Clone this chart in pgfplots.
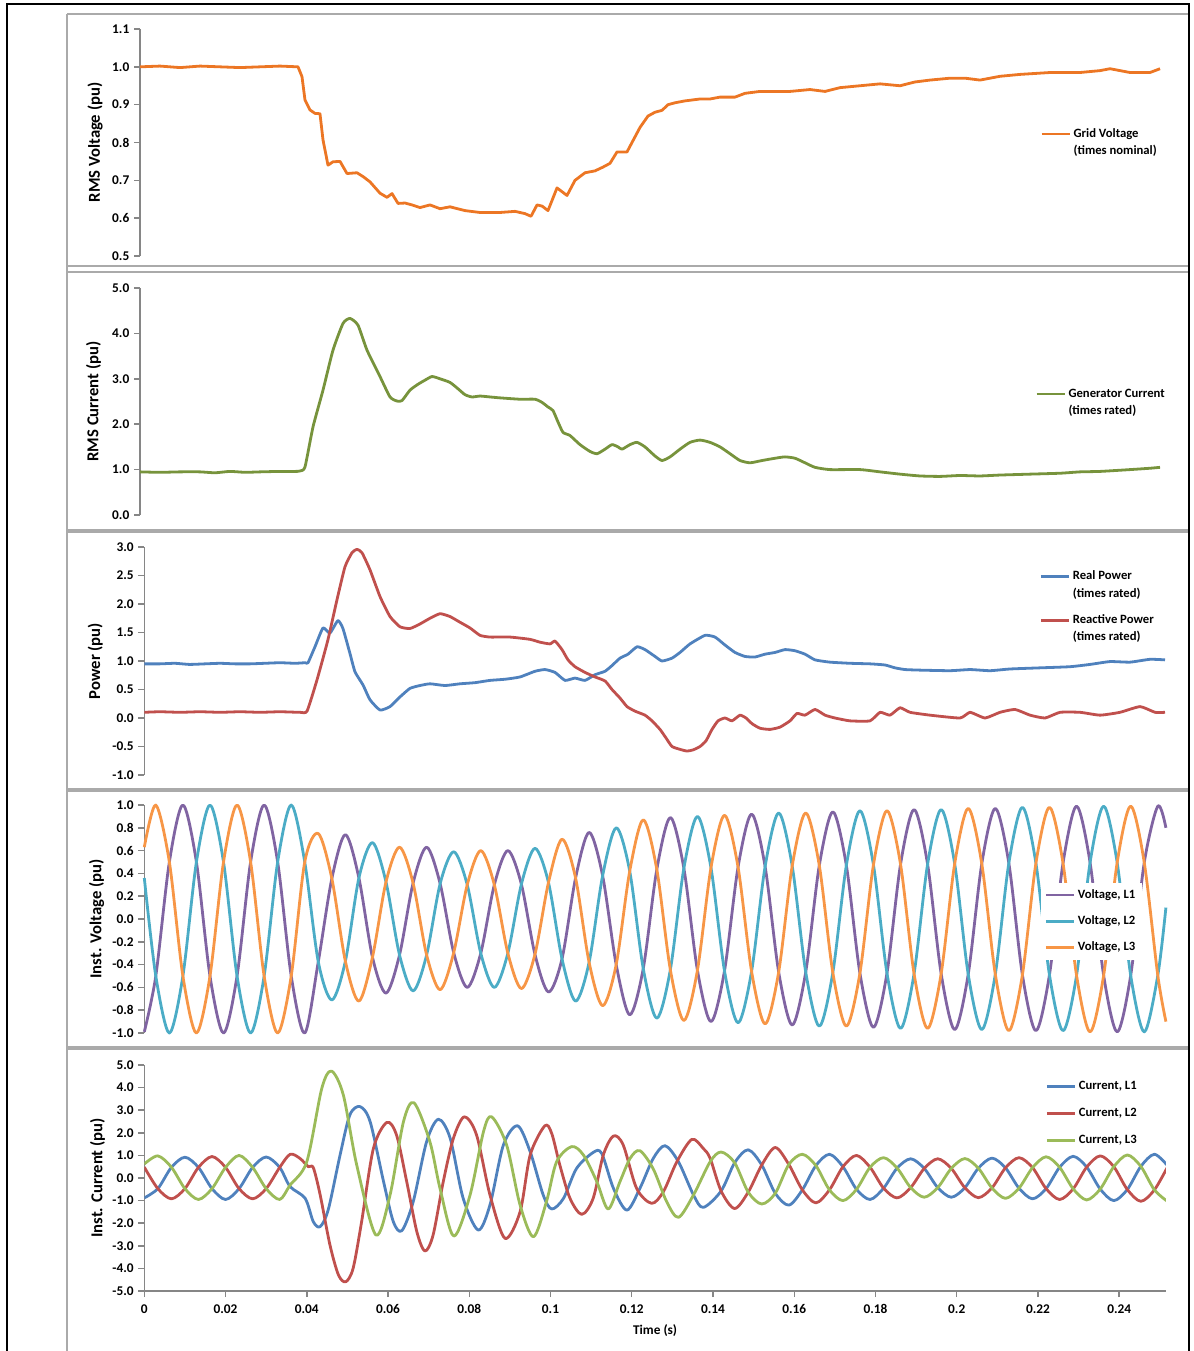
\documentclass[border=0pt]{standalone}
\usepackage{fontspec}
\setmainfont{Carlito}
\usepackage{pgfplots}
\usepackage{pgfplotstable}
\pgfplotsset{compat=1.18}
\definecolor{cOrange}{RGB}{236,118,36}
\definecolor{cGreenI}{RGB}{119,147,60}
\definecolor{cBlue}{RGB}{79,129,189}
\definecolor{cRed}{RGB}{192,80,77}
\definecolor{cPurple}{RGB}{128,100,162}
\definecolor{cTeal}{RGB}{75,172,198}
\definecolor{cOrange3}{RGB}{247,150,70}
\definecolor{cGreen5}{RGB}{155,187,89}
\definecolor{cAxis}{RGB}{134,134,134}
\definecolor{cFrame}{RGB}{170,170,170}

\pgfplotstableread{
t P T O
0 -0.99 0.36 0.63
0.00283 -0.5 -0.5 1
0.00617 0.5 -1 0.5
0.0095 1 -0.5 -0.5
0.01283 0.5 0.5 -1
0.01617 -0.5 1 -0.5
0.0195 -1 0.5 0.5
0.02283 -0.5 -0.5 1
0.02617 0.5 -1 0.5
0.0295 1 -0.5 -0.5
0.03283 0.5 0.5 -1
0.03617 -0.5 1 -0.5
0.0395 -1 0.5 0.5
0.04283 -0.375 -0.375 0.75
0.04617 0.355 -0.71 0.355
0.0495 0.74 -0.37 -0.37
0.05283 0.36 0.36 -0.72
0.05617 -0.335 0.67 -0.335
0.0595 -0.65 0.325 0.325
0.06283 -0.315 -0.315 0.63
0.06617 0.315 -0.63 0.315
0.0695 0.63 -0.315 -0.315
0.07283 0.31 0.31 -0.62
0.07617 -0.295 0.59 -0.295
0.0795 -0.6 0.3 0.3
0.08283 -0.3 -0.3 0.6
0.08617 0.3 -0.6 0.3
0.0895 0.6 -0.3 -0.3
0.09283 0.305 0.305 -0.61
0.09617 -0.31 0.62 -0.31
0.0995 -0.64 0.32 0.32
0.10283 -0.35 -0.35 0.70
0.10617 0.36 -0.72 0.36
0.1095 0.76 -0.38 -0.38
0.11283 0.38 0.38 -0.76
0.11617 -0.4 0.8 -0.4
0.1195 -0.84 0.42 0.42
0.12283 -0.435 -0.435 0.87
0.12617 0.435 -0.87 0.435
0.1295 0.89 -0.445 -0.445
0.13283 0.445 0.445 -0.89
0.13617 -0.45 0.9 -0.45
0.1395 -0.9 0.45 0.45
0.14283 -0.455 -0.455 0.91
0.14617 0.455 -0.91 0.455
0.1495 0.92 -0.46 -0.46
0.15283 0.46 0.46 -0.92
0.15617 -0.465 0.93 -0.465
0.1595 -0.93 0.465 0.465
0.16283 -0.465 -0.465 0.93
0.16617 0.47 -0.94 0.47
0.1695 0.94 -0.47 -0.47
0.17283 0.47 0.47 -0.94
0.17617 -0.475 0.95 -0.475
0.1795 -0.95 0.475 0.475
0.18283 -0.475 -0.475 0.95
0.18617 0.48 -0.96 0.48
0.1895 0.96 -0.48 -0.48
0.19283 0.48 0.48 -0.96
0.19617 -0.48 0.96 -0.48
0.1995 -0.97 0.485 0.485
0.20283 -0.485 -0.485 0.97
0.20617 0.485 -0.97 0.485
0.2095 0.97 -0.485 -0.485
0.21283 0.49 0.49 -0.98
0.21617 -0.49 0.98 -0.49
0.2195 -0.98 0.49 0.49
0.22283 -0.49 -0.49 0.98
0.22617 0.49 -0.98 0.49
0.2295 0.99 -0.495 -0.495
0.23283 0.495 0.495 -0.99
0.23617 -0.495 0.99 -0.495
0.2395 -0.99 0.495 0.495
0.24283 -0.495 -0.495 0.99
0.24617 0.495 -0.99 0.495
0.2495 0.99 -0.495 -0.495
0.2515 0.80 0.10 -0.90
}\voltab

\pgfplotsset{
  panel/.style={
    anchor=south west, scale only axis, width=766.2pt,
    xmin=0, xmax=0.2515,
    axis y line*=left,
    axis line style={draw=cAxis, line width=1.1pt},
    tick style={draw=cAxis, line width=1.1pt},
    tick align=outside, major tick length=4.5pt,
    ticklabel style={font=\fontsize{10}{11}\selectfont\bfseries, text=black},
    label style={font=\fontsize{12.5}{14}\selectfont\bfseries},
    ylabel style={at={(axis description cs:-0.046,0.5)}, anchor=center},
    legend style={draw=none, fill=none, font=\fontsize{9.5}{13}\selectfont\bfseries,
      anchor=west, cells={anchor=west, align=left}, inner sep=0pt, row sep=6pt},
    legend cell align=left,
    legend image code/.code={\draw[##1, line width=2pt] (0pt,0pt) -- (21pt,0pt);},
    every axis plot/.append style={line width=2.1pt, line join=round},
  },
  twoline/.style={
    legend image code/.code={\path[draw=none, fill=none] (0pt,-6.4pt) rectangle (21pt,6.4pt);
      \draw[##1, line width=2pt] (0pt,6.4pt) -- (21pt,6.4pt);},
  },
  noxaxis/.style={axis x line=none, xtick=\empty},
}

\begin{document}
\begin{tikzpicture}
\useasboundingbox (0,0) rectangle (894.75pt,-1013.25pt);
\begin{scope}[x=0.75pt,y=-0.75pt]
  \draw[cFrame, line width=1.5pt] (67,14) -- (1189,14);
  \draw[cFrame, line width=1.5pt] (67,266) -- (1189,266);
  \draw[cFrame, line width=1.5pt] (67,272) -- (1189,272);
  \draw[cFrame, line width=1.5pt] (67,530) -- (1189,530);
  \draw[cFrame, line width=1.5pt] (67,532) -- (1189,532);
  \draw[cFrame, line width=1.5pt] (67,789) -- (1189,789);
  \draw[cFrame, line width=1.5pt] (67,791) -- (1189,791);
  \draw[cFrame, line width=1.5pt] (67,1047) -- (1189,1047);
  \draw[cFrame, line width=1.5pt] (67,1049) -- (1189,1049);
  \draw[cFrame, line width=1.5pt] (67,14) -- (67,1360);
  \draw[black, line width=2.2pt] (7,1360) -- (7,4) -- (1189,4) -- (1189,1360);
\end{scope}

% Panel 1: RMS voltage
\begin{axis}[panel, twoline, noxaxis, at={(105pt,-192pt)}, height=170.25pt,
  ymin=0.5, ymax=1.1,
  ytick={0.5,0.6,0.7,0.8,0.9,1.0,1.1},
  yticklabels={0.5,0.6,0.7,0.8,0.9,1.0,1.1},
  ylabel={RMS Voltage (pu)},
  ylabel style={at={(axis description cs:-0.044,0.5)}},
  legend style={at={(axis description cs:0.881,0.50)}}]
\addplot[cOrange] table {
t v
0 1.0
0.00492 1.002
0.00985 0.998
0.01477 1.002
0.0197 1.0
0.02462 0.998
0.02954 1.0
0.03447 1.002
0.0389 1.0
0.03988 0.974
0.04062 0.912
0.04185 0.886
0.04308 0.877
0.04431 0.876
0.04505 0.807
0.04628 0.74
0.04751 0.749
0.04924 0.75
0.05096 0.718
0.05342 0.72
0.0549 0.71
0.05662 0.696
0.05908 0.666
0.06081 0.655
0.06204 0.665
0.06352 0.639
0.06524 0.64
0.06696 0.635
0.06893 0.628
0.07139 0.635
0.07386 0.625
0.07632 0.63
0.08001 0.62
0.0837 0.615
0.08863 0.615
0.09232 0.618
0.09478 0.612
0.09626 0.605
0.09774 0.635
0.09897 0.632
0.10044 0.62
0.10266 0.68
0.10512 0.66
0.10709 0.70
0.10955 0.72
0.11201 0.725
0.11398 0.735
0.11571 0.745
0.11743 0.775
0.11989 0.775
0.12112 0.80
0.1231 0.84
0.12506 0.87
0.12678 0.88
0.12851 0.885
0.12999 0.90
0.13171 0.905
0.13417 0.91
0.13786 0.915
0.14033 0.915
0.14279 0.92
0.14648 0.92
0.14894 0.93
0.15263 0.935
0.16002 0.935
0.16494 0.94
0.16864 0.935
0.17233 0.945
0.17725 0.95
0.18218 0.955
0.1871 0.95
0.19079 0.96
0.19449 0.965
0.19941 0.97
0.2031 0.97
0.2068 0.965
0.21172 0.975
0.21664 0.98
0.22403 0.985
0.23141 0.985
0.23634 0.99
0.2388 0.995
0.24372 0.985
0.24865 0.985
0.25111 0.995
};
\addlegendentry{Grid Voltage\\(times nominal)}
\end{axis}

% Panel 2: RMS current
\begin{axis}[panel, twoline, noxaxis, at={(105pt,-386.25pt)}, height=170.25pt,
  ymin=0, ymax=5,
  ytick={0,1,2,3,4,5},
  yticklabels={0.0,1.0,2.0,3.0,4.0,5.0},
  ylabel={RMS Current (pu)},
  ylabel style={at={(axis description cs:-0.0455,0.5)}},
  legend style={at={(axis description cs:0.876,0.495)}}]
\addplot[cGreenI, smooth, tension=0.35] table {
t v
0 0.95
0.00492 0.94
0.00985 0.95
0.01477 0.95
0.01846 0.93
0.02216 0.96
0.02585 0.94
0.02954 0.95
0.03447 0.96
0.03816 0.96
0.03939 0.97
0.04062 1.06
0.04259 1.94
0.04505 2.75
0.04751 3.63
0.04998 4.22
0.0517 4.33
0.05367 4.18
0.05589 3.63
0.05908 3.05
0.06155 2.6
0.06327 2.51
0.0645 2.52
0.06647 2.75
0.06844 2.88
0.07016 2.97
0.07189 3.05
0.07386 3.0
0.07632 2.92
0.07829 2.78
0.08001 2.65
0.08173 2.6
0.0837 2.62
0.08617 2.6
0.08863 2.58
0.09355 2.55
0.09724 2.55
0.09897 2.48
0.10044 2.38
0.10167 2.3
0.1029 2.05
0.10414 1.82
0.10586 1.75
0.10832 1.55
0.11078 1.4
0.11251 1.35
0.11448 1.45
0.1162 1.55
0.11768 1.5
0.11866 1.45
0.12063 1.55
0.12235 1.6
0.12432 1.5
0.12678 1.3
0.12851 1.2
0.13048 1.28
0.13294 1.45
0.1354 1.6
0.13786 1.65
0.14033 1.6
0.14279 1.5
0.14525 1.35
0.14771 1.2
0.15017 1.15
0.15313 1.2
0.15633 1.25
0.15879 1.28
0.16125 1.25
0.16371 1.15
0.16617 1.05
0.16987 1.0
0.17725 1.0
0.18218 0.95
0.1871 0.9
0.19202 0.86
0.19695 0.85
0.20187 0.87
0.2068 0.86
0.21172 0.88
0.21911 0.9
0.22649 0.92
0.23141 0.95
0.23634 0.96
0.24372 1.0
0.24865 1.03
0.25111 1.05
};
\addlegendentry{Generator Current\\(times rated)}
\end{axis}

% Panel 3: Power
\begin{axis}[panel, twoline, noxaxis, at={(108.225pt,-581.25pt)}, height=171pt,
  ymin=-1, ymax=3,
  ytick={-1,-0.5,0,0.5,1,1.5,2,2.5,3},
  yticklabels={-1.0,-0.5,0.0,0.5,1.0,1.5,2.0,2.5,3.0},
  ylabel={Power (pu)},
  ylabel style={at={(axis description cs:-0.048,0.5)}},
  legend style={at={(axis description cs:0.876,0.737)}, row sep=7.5pt}]
\addplot[cBlue, smooth, tension=0.3] table {
t v
0 0.95
0.00387 0.95
0.00756 0.96
0.0111 0.94
0.01494 0.95
0.01864 0.96
0.02233 0.95
0.02602 0.95
0.02971 0.96
0.03341 0.97
0.0371 0.96
0.03957 0.97
0.0403 0.97
0.04202 1.25
0.04399 1.58
0.0457 1.49
0.04767 1.71
0.0489 1.57
0.05064 1.13
0.05187 0.81
0.05384 0.58
0.05556 0.32
0.05803 0.14
0.06049 0.2
0.06295 0.37
0.06541 0.52
0.06787 0.57
0.07034 0.6
0.07403 0.57
0.07772 0.6
0.08141 0.62
0.08511 0.66
0.0888 0.68
0.09249 0.72
0.09618 0.82
0.09865 0.85
0.10111 0.8
0.10357 0.66
0.10603 0.7
0.1085 0.66
0.11096 0.76
0.11342 0.82
0.11514 0.92
0.11711 1.05
0.11908 1.12
0.1213 1.25
0.12326 1.2
0.12573 1.08
0.12745 1.0
0.12991 1.05
0.13188 1.15
0.13434 1.3
0.13804 1.45
0.1405 1.42
0.14296 1.28
0.14542 1.15
0.14788 1.08
0.15034 1.07
0.15281 1.12
0.15527 1.15
0.15773 1.2
0.16019 1.18
0.16265 1.12
0.16512 1.02
0.1688 0.98
0.17373 0.96
0.17866 0.95
0.18235 0.93
0.18481 0.88
0.18728 0.85
0.19097 0.84
0.19835 0.83
0.20328 0.85
0.2082 0.83
0.21312 0.86
0.22051 0.88
0.2279 0.9
0.23282 0.94
0.23774 0.99
0.24267 0.98
0.24759 1.03
0.25128 1.02
};
\addlegendentry{Real Power\\(times rated)}
\addplot[cRed, smooth, tension=0.3] table {
t v
0 0.1
0.00387 0.11
0.00879 0.1
0.01371 0.11
0.01864 0.1
0.02356 0.11
0.02848 0.1
0.03341 0.11
0.03833 0.1
0.04006 0.12
0.04252 0.67
0.0452 1.37
0.04742 2.07
0.04939 2.65
0.05113 2.9
0.05236 2.96
0.05359 2.9
0.05556 2.6
0.05803 2.13
0.06049 1.78
0.06295 1.6
0.06541 1.57
0.06787 1.65
0.07034 1.75
0.0728 1.83
0.07526 1.78
0.07772 1.68
0.08018 1.58
0.08265 1.45
0.08511 1.42
0.09003 1.42
0.09495 1.38
0.09742 1.33
0.09988 1.3
0.10111 1.35
0.10283 1.2
0.10431 1.02
0.10603 0.9
0.1085 0.8
0.11096 0.72
0.11342 0.65
0.11514 0.5
0.11711 0.35
0.11884 0.2
0.12081 0.12
0.12326 0.05
0.12499 -0.05
0.12696 -0.2
0.12843 -0.35
0.12991 -0.5
0.13188 -0.55
0.1336 -0.58
0.13508 -0.56
0.1368 -0.5
0.13828 -0.4
0.13976 -0.2
0.14124 -0.05
0.14296 0.0
0.14468 -0.05
0.14665 0.05
0.14813 0.0
0.14961 -0.1
0.15158 -0.18
0.15404 -0.2
0.1565 -0.16
0.15896 -0.05
0.16068 0.08
0.16265 0.05
0.16512 0.15
0.16758 0.05
0.17004 0.0
0.17373 -0.05
0.17866 -0.05
0.18112 0.1
0.18358 0.05
0.18604 0.18
0.18851 0.1
0.19343 0.05
0.20081 0.0
0.20328 0.1
0.20697 0.0
0.21066 0.1
0.21435 0.15
0.21805 0.05
0.22174 0.0
0.22543 0.1
0.23036 0.1
0.23528 0.05
0.2402 0.1
0.24513 0.2
0.24882 0.1
0.25128 0.1
};
\addlegendentry{Reactive Power\\(times rated)}
\end{axis}

% Panel 4: instantaneous voltage
\begin{axis}[panel, noxaxis, at={(108.225pt,-774.75pt)}, height=171pt,
  ymin=-1, ymax=1, clip=false,
  ytick={-1,-0.8,-0.6,-0.4,-0.2,0,0.2,0.4,0.6,0.8,1},
  yticklabels={-1.0,-0.8,-0.6,-0.4,-0.2,0.0,0.2,0.4,0.6,0.8,1.0},
  ylabel={Inst. Voltage (pu)},
  ylabel style={at={(axis description cs:-0.0468,0.5)}},
  legend style={at={(axis description cs:0.877,0.49)}, fill=white, inner sep=3pt, row sep=7.5pt}]
\addplot[cPurple, smooth] table[x=t, y=P] {\voltab};
\addlegendentry{Voltage, L1}
\addplot[cTeal, smooth] table[x=t, y=T] {\voltab};
\addlegendentry{Voltage, L2}
\addplot[cOrange3, smooth] table[x=t, y=O] {\voltab};
\addlegendentry{Voltage, L3}
\end{axis}

% Panel 5: instantaneous current
\begin{axis}[panel, at={(108.225pt,-968.25pt)}, height=169.5pt,
  ymin=-5, ymax=5,
  axis x line*=bottom,
  xtick={0,0.02,0.04,0.06,0.08,0.1,0.12,0.14,0.16,0.18,0.2,0.22,0.24},
  xticklabels={0,0.02,0.04,0.06,0.08,0.1,0.12,0.14,0.16,0.18,0.2,0.22,0.24},
  xticklabel style={yshift=-2pt},
  ytick={-5,-4,-3,-2,-1,0,1,2,3,4,5},
  yticklabels={-5.0,-4.0,-3.0,-2.0,-1.0,0.0,1.0,2.0,3.0,4.0,5.0},
  xlabel={Time (s)},
  xlabel style={at={(axis description cs:0.5,-0.176)}, anchor=center, font=\fontsize{10}{11}\selectfont\bfseries},
  ylabel={Inst. Current (pu)},
  ylabel style={at={(axis description cs:-0.0458,0.5)}},
  legend style={at={(axis description cs:0.882,0.786)}, row sep=8.5pt}]
\addplot[cBlue, smooth, tension=0.5] table {
t v
0 -0.88
0.00333 -0.47
0.00667 0.47
0.01 0.92
0.01333 0.47
0.01667 -0.47
0.02 -0.95
0.02333 -0.47
0.02667 0.47
0.03 0.93
0.03333 0.47
0.0359 -0.38
0.0396 -0.9
0.0416 -1.93
0.0433 -2.15
0.0453 -1.39
0.0482 1.02
0.0506 2.79
0.0531 3.16
0.0556 2.49
0.0589 -0.16
0.0613 -1.93
0.0634 -2.33
0.0662 -1.05
0.0695 1.61
0.0724 2.6
0.0753 1.76
0.0785 -0.9
0.0822 -2.3
0.0851 -1.19
0.0884 1.46
0.0919 2.31
0.095 1.16
0.0982 -0.75
0.1003 -1.37
0.1032 -0.9
0.1064 0.42
0.1105 1.13
0.1126 1.09
0.1155 -0.46
0.1188 -1.42
0.122 -0.46
0.1253 0.87
0.1282 1.43
0.1315 0.72
0.1352 -0.75
0.1376 -1.3
0.142 -0.575
0.14533 0.675
0.14867 1.25
0.152 0.575
0.15533 -0.675
0.15867 -1.2
0.162 -0.525
0.16533 0.55
0.16867 1.05
0.172 0.5
0.17533 -0.5
0.17867 -0.95
0.182 -0.45
0.18533 0.44
0.18867 0.85
0.192 0.425
0.19533 -0.425
0.19867 -0.85
0.202 -0.43
0.20533 0.435
0.20867 0.88
0.212 0.45
0.21533 -0.45
0.21867 -0.92
0.222 -0.47
0.22533 0.475
0.22867 0.96
0.232 0.485
0.23533 -0.49
0.23867 -1.0
0.242 -0.51
0.24533 0.515
0.24867 1.05
0.252 0.525
};
\addlegendentry{Current, L1}
\addplot[cRed, smooth, tension=0.5] table {
t v
0 0.48
0.00333 -0.47
0.00667 -0.92
0.01 -0.47
0.01333 0.47
0.01667 0.95
0.02 0.47
0.02333 -0.47
0.02667 -0.92
0.03 -0.47
0.03333 0.47
0.0359 1.05
0.0383 0.87
0.0404 0.5
0.0416 0.46
0.0433 -0.75
0.0457 -2.96
0.0478 -4.29
0.0496 -4.59
0.0514 -4.0
0.0535 -1.93
0.0564 1.31
0.0597 2.46
0.0621 1.9
0.0646 -0.16
0.0671 -2.38
0.0691 -3.23
0.0711 -2.52
0.0736 -0.16
0.0761 1.76
0.0788 2.71
0.0818 1.9
0.0851 -0.75
0.0888 -2.67
0.0925 -1.5
0.095 1.02
0.0986 2.31
0.1003 1.97
0.1023 0.57
0.1048 -0.9
0.1077 -1.61
0.1105 -0.9
0.113 1.02
0.1155 1.86
0.1179 1.46
0.1212 -0.46
0.1249 -1.12
0.1278 -0.6
0.1311 0.72
0.1348 1.71
0.1376 1.31
0.1393 0.87
0.142 -0.575
0.14533 -1.35
0.14867 -0.625
0.152 0.575
0.15533 1.35
0.15867 0.6
0.162 -0.525
0.16533 -1.1
0.16867 -0.525
0.172 0.5
0.17533 1.0
0.17867 0.475
0.182 -0.45
0.18533 -0.88
0.18867 -0.425
0.192 0.425
0.19533 0.85
0.19867 0.425
0.202 -0.43
0.20533 -0.87
0.20867 -0.44
0.212 0.45
0.21533 0.9
0.21867 0.46
0.222 -0.47
0.22533 -0.95
0.22867 -0.48
0.232 0.485
0.23533 0.98
0.23867 0.5
0.242 -0.51
0.24533 -1.03
0.24867 -0.525
0.252 0.525
};
\addlegendentry{Current, L2}
\addplot[cGreen5, smooth, tension=0.5] table {
t v
0 0.62
0.00333 0.98
0.00667 0.48
0.01 -0.47
0.01333 -0.95
0.01667 -0.47
0.02 0.47
0.02333 1.0
0.02667 0.47
0.03 -0.47
0.03333 -0.95
0.0359 -0.31
0.04 0.72
0.0437 3.97
0.0461 4.73
0.049 3.67
0.0523 0.57
0.057 -2.52
0.0605 -0.75
0.0638 2.49
0.0664 3.33
0.0703 1.61
0.0728 -0.46
0.0762 -2.57
0.0802 -0.75
0.0835 2.05
0.0855 2.71
0.0892 1.46
0.0925 -1.19
0.0958 -2.6
0.099 -1.05
0.1015 0.72
0.1052 1.39
0.1081 1.02
0.1114 -0.16
0.1142 -1.37
0.1171 -0.16
0.1196 0.87
0.122 1.21
0.1253 0.4
0.1286 -1.05
0.1315 -1.74
0.1352 -0.75
0.1393 0.72
0.142 1.15
0.14533 0.675
0.14867 -0.625
0.152 -1.15
0.15533 -0.675
0.15867 0.6
0.162 1.05
0.16533 0.55
0.16867 -0.525
0.172 -1.0
0.17533 -0.5
0.17867 0.475
0.182 0.9
0.18533 0.44
0.18867 -0.425
0.192 -0.85
0.19533 -0.425
0.19867 0.425
0.202 0.86
0.20533 0.435
0.20867 -0.44
0.212 -0.9
0.21533 -0.45
0.21867 0.46
0.222 0.94
0.22533 0.475
0.22867 -0.48
0.232 -0.97
0.23533 -0.49
0.23867 0.5
0.242 1.02
0.24533 0.515
0.24867 -0.525
0.252 -1.05
};
\addlegendentry{Current, L3}
\end{axis}
\end{tikzpicture}
\end{document}
